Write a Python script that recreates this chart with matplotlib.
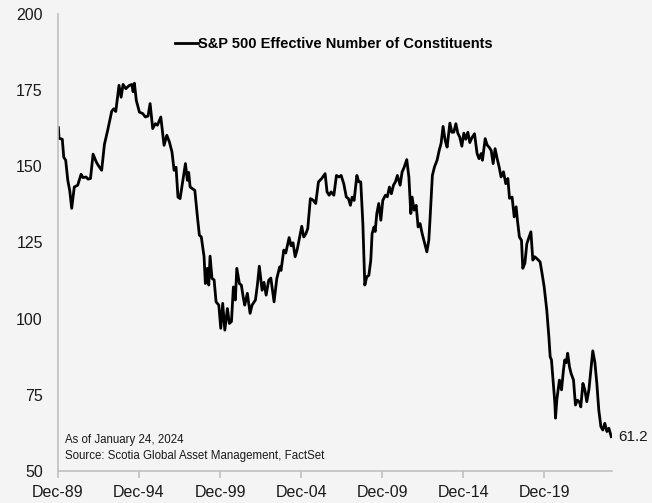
import matplotlib
matplotlib.use("Agg")
import matplotlib.pyplot as plt

# Data (decimal years, effective number of constituents)
years = [
    1989.94, 1989.98, 1990.18, 1990.27, 1990.39, 1990.52, 1990.64, 1990.76, 1990.92, 1991.13,
    1991.34, 1991.46, 1991.65, 1991.77, 1991.92, 1992.08, 1992.28, 1992.40, 1992.61, 1992.78,
    1992.98, 1993.23, 1993.36, 1993.48, 1993.68, 1993.81, 1993.93, 1994.10, 1994.30, 1994.47,
    1994.55, 1994.63, 1994.75, 1994.94, 1995.15, 1995.31, 1995.47, 1995.60, 1995.76, 1995.92,
    1996.05, 1996.26, 1996.46, 1996.63, 1996.79, 1996.95, 1997.08, 1997.20, 1997.32, 1997.45,
    1997.65, 1997.78, 1997.90, 1997.98, 1998.07, 1998.36, 1998.52, 1998.64, 1998.76, 1998.93,
    1999.01, 1999.13, 1999.22, 1999.30, 1999.42, 1999.55, 1999.67, 1999.84, 1999.96, 2000.08,
    2000.21, 2000.37, 2000.49, 2000.62, 2000.74, 2000.86, 2000.95, 2001.11, 2001.23, 2001.36,
    2001.44, 2001.60, 2001.77, 2001.89, 2002.10, 2002.22, 2002.34, 2002.51, 2002.63, 2002.76,
    2002.92, 2003.05, 2003.25, 2003.42, 2003.60, 2003.68, 2003.85, 2003.97, 2004.18, 2004.30,
    2004.42, 2004.55, 2004.67, 2004.79, 2004.96, 2005.08, 2005.21, 2005.33, 2005.49, 2005.66,
    2005.82, 2005.99, 2006.19, 2006.40, 2006.52, 2006.65, 2006.77, 2006.94, 2007.10, 2007.26,
    2007.39, 2007.55, 2007.71, 2007.84, 2007.96, 2008.07, 2008.19, 2008.36, 2008.48, 2008.60,
    2008.73, 2008.85, 2008.97, 2009.10, 2009.22, 2009.30, 2009.42, 2009.49, 2009.59, 2009.71,
    2009.84, 2009.96, 2010.12, 2010.24, 2010.37, 2010.49, 2010.62, 2010.74, 2010.86, 2011.03,
    2011.15, 2011.28, 2011.44, 2011.57, 2011.69, 2011.77, 2011.89, 2012.02, 2012.14, 2012.26,
    2012.39, 2012.55, 2012.68, 2012.80, 2012.86, 2013.02, 2013.15, 2013.31, 2013.44, 2013.56,
    2013.68, 2013.81, 2013.93, 2014.10, 2014.22, 2014.34, 2014.47, 2014.59, 2014.71, 2014.84,
    2014.96, 2015.08, 2015.21, 2015.33, 2015.45, 2015.62, 2015.78, 2015.90, 2016.03, 2016.11,
    2016.28, 2016.40, 2016.52, 2016.65, 2016.77, 2016.89, 2017.02, 2017.14, 2017.26, 2017.41,
    2017.55, 2017.68, 2017.78, 2017.94, 2018.07, 2018.19, 2018.27, 2018.39, 2018.52, 2018.60,
    2018.73, 2018.85, 2019.10, 2019.22, 2019.34, 2019.47, 2019.67, 2019.79, 2019.92, 2020.08,
    2020.21, 2020.29, 2020.37, 2020.45, 2020.58, 2020.62, 2020.70, 2020.86, 2020.99, 2021.11,
    2021.19, 2021.28, 2021.37, 2021.48, 2021.58, 2021.73, 2021.85, 2021.97, 2022.10, 2022.18,
    2022.31, 2022.43, 2022.55, 2022.68, 2022.80, 2022.92, 2023.05, 2023.17, 2023.29, 2023.42,
    2023.54, 2023.66, 2023.79, 2023.91, 2024.06,
]
values = [
    162.7, 159.2, 158.9, 153.0, 152.0, 145.4, 142.0, 136.2, 143.2, 143.8,
    147.4, 146.3, 146.5, 145.8, 146.0, 154.0, 151.4, 150.3, 148.7, 157.2,
    161.8, 168.1, 168.9, 168.0, 176.6, 172.7, 176.9, 175.5, 176.5, 176.9,
    174.5, 177.3, 171.6, 167.8, 167.3, 166.2, 166.5, 170.6, 162.4, 164.0,
    163.5, 166.2, 156.9, 160.2, 158.0, 154.7, 148.7, 149.7, 139.9, 139.4,
    146.5, 150.9, 145.4, 148.0, 143.2, 142.1, 133.4, 127.4, 126.8, 120.3,
    111.5, 116.5, 111.0, 120.5, 113.2, 112.7, 105.5, 104.4, 96.8, 105.0,
    96.2, 103.3, 98.4, 99.0, 110.4, 106.1, 116.5, 111.5, 111.0, 106.6,
    104.4, 108.3, 101.7, 104.4, 106.1, 111.0, 117.2, 109.3, 111.9, 107.7,
    112.6, 113.3, 105.5, 113.2, 117.0, 115.8, 122.5, 121.5, 126.6, 123.9,
    124.9, 120.3, 122.5, 125.7, 130.3, 126.8, 127.8, 129.6, 139.4, 138.9,
    137.8, 144.9, 146.0, 147.6, 141.6, 140.5, 141.6, 140.5, 147.0, 146.5,
    147.0, 144.3, 139.9, 139.4, 137.2, 139.9, 138.8, 147.0, 144.9, 144.9,
    131.2, 111.0, 113.7, 114.2, 119.2, 127.9, 130.1, 128.6, 134.5, 137.8,
    132.3, 138.8, 140.5, 140.0, 143.2, 141.0, 143.8, 144.9, 147.0, 143.8,
    148.1, 149.7, 152.2, 146.5, 134.5, 139.9, 135.6, 137.2, 130.1, 131.2,
    127.9, 124.6, 121.9, 125.7, 131.2, 147.0, 149.8, 152.0, 155.2, 157.6,
    163.1, 158.5, 156.3, 164.2, 161.2, 161.2, 164.0, 160.9, 159.6, 156.6,
    160.9, 158.9, 161.2, 157.8, 159.3, 160.7, 154.2, 152.5, 154.2, 152.0,
    159.1, 157.0, 156.3, 155.2, 150.9, 155.8, 152.5, 149.8, 146.5, 148.2,
    144.3, 146.0, 139.5, 139.9, 133.4, 136.7, 132.3, 126.8, 125.7, 116.5,
    118.2, 124.6, 128.5, 119.2, 120.3, 119.7, 118.6, 114.8, 110.4, 102.8,
    94.0, 87.5, 86.4, 80.9, 72.2, 67.3, 73.3, 79.8, 76.6, 83.1,
    86.4, 85.5, 88.6, 84.2, 82.0, 79.8, 71.6, 73.2, 72.6, 71.0,
    78.7, 76.6, 72.7, 76.6, 83.1, 89.4, 85.6, 78.7, 70.0, 64.5,
    63.4, 65.6, 62.9, 64.0, 61.2,
]

tick_years = [1989.917, 1994.917, 1999.917, 2004.917, 2009.917, 2014.917, 2019.917]
tick_labels = ["Dec-89", "Dec-94", "Dec-99", "Dec-04", "Dec-09", "Dec-14", "Dec-19"]
y_ticks = [50, 75, 100, 125, 150, 175, 200]

series_label = "S&P 500 Effective Number of Constituents"
last_label = "61.2"
note_lines = "As of January 24, 2024\nSource: Scotia Global Asset Management, FactSet"

plt.rcParams["font.family"] = ["Liberation Sans", "DejaVu Sans"]
base = 11.5
txt = "#1a1a1a"

bg = "#f4f4f4"
fig = plt.figure(figsize=(6.52, 5.03), dpi=100, facecolor=bg)
ax = fig.add_axes([0.089, 0.064, 0.850, 0.908])
ax.set_facecolor(bg)

ax.plot(years, values, color="black", linewidth=2.0, label=series_label)

ax.set_xlim(1989.917, 2024.12)
ax.set_ylim(50, 200)
ax.set_yticks(y_ticks)
ax.set_xticks(tick_years)
ax.set_xticklabels(tick_labels)

for s in ["top", "right"]:
    ax.spines[s].set_visible(False)
for s in ["left", "bottom"]:
    ax.spines[s].set_color("#c0c0c0")
    ax.spines[s].set_linewidth(1.2)
ax.tick_params(axis="y", length=0, pad=11, labelsize=base, colors=txt)
ax.tick_params(axis="x", length=5, width=1.2, color="#c0c0c0", pad=5,
               labelsize=base, labelcolor=txt)

leg = ax.legend(loc="upper center", bbox_to_anchor=(0.498, 0.962), frameon=False,
                handlelength=1.6, handletextpad=0.0, borderaxespad=0,
                prop={"weight": "bold", "size": 10.5})

ax.text(years[-1] + 0.45, values[-1], last_label, fontsize=base - 0.5,
        va="center", ha="left", color=txt)
ax.text(0.012, 0.02, note_lines, transform=ax.transAxes, fontsize=8.3,
        va="bottom", ha="left", color=txt, linespacing=1.4)

fig.savefig("out.png", dpi=100, facecolor=bg)
